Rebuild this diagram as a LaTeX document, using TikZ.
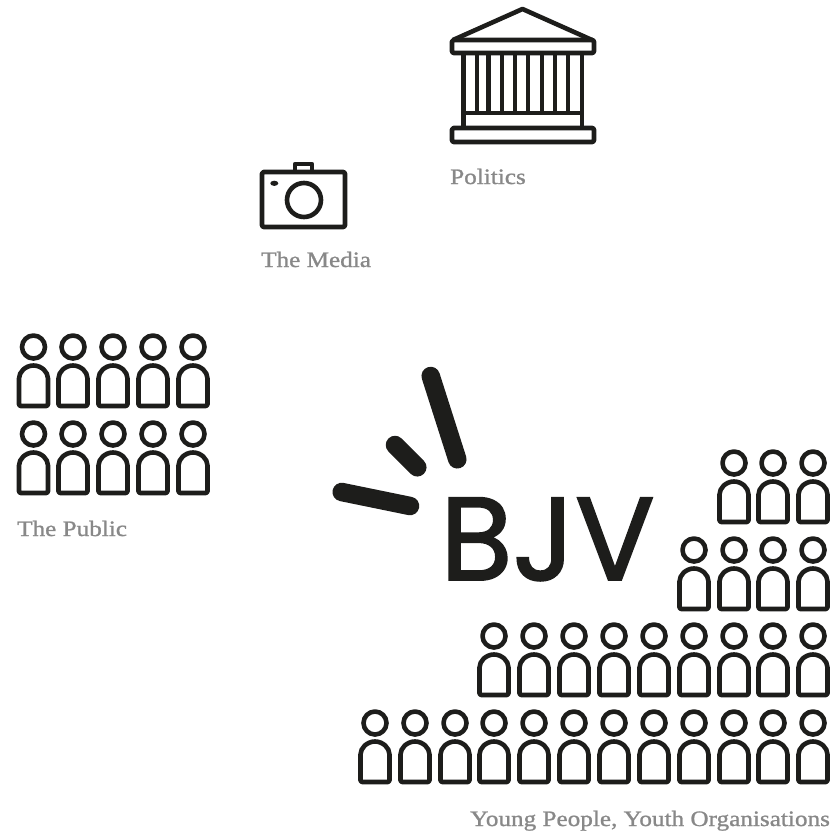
\documentclass[tikz,border=0pt]{standalone}
\usepackage{fontspec}
\setmainfont[FakeStretch=1.145,FakeBold=1.1]{Liberation Serif}
\newfontfamily\logofont[FakeBold=1.6]{Poppins}
\definecolor{ink}{HTML}{1D1D1B}
\definecolor{lab}{HTML}{888888}
\tikzset{
  icon/.style={draw=ink,line width=4.6pt,line join=round},
  thin col/.style={draw=ink,line width=4.2pt},
  beam/.style={draw=ink,line width=18.5pt,line cap=round},
  caption/.style={text=lab,anchor=base west,inner sep=0pt,font=\fontsize{22}{24}\selectfont},
  person/.pic={
    \draw[icon] (0,0) circle (11.5);
    \draw[icon,rounded corners=1.5pt] (-14.5,59) -- (-14.5,33) arc[start angle=180,end angle=360,radius=14.5] -- (14.5,59) -- cycle;
  }
}
\begin{document}
\begin{tikzpicture}[x=1pt,y=-1pt]
\useasboundingbox (0,0) rectangle (832,833);
% Politics
\draw[icon] (453,40) -- (522.5,9) -- (592,40);
\draw[icon,rounded corners=1.5pt] (452,40) rectangle (594,53);
\foreach \x in {476.7,488.5,501.7,515,528.3,541.7,555,568.3}
  \draw[thin col] (\x,53) -- (\x,113);
\foreach \x in {463.5,582.3}
  \draw[thin col] (\x,53) -- (\x,128);
\draw[icon] (463.5,113) -- (582.3,113);
\draw[icon,rounded corners=1.5pt] (452,128) rectangle (594,142);
\node[caption] (politics) at (450,184) {Politics};
% Media
\draw[icon,rounded corners=1.5pt] (262,172) rectangle (345,227);
\draw[icon] (295,172) -- (295,164) -- (312,164) -- (312,172);
\draw[icon] (304,200) circle (17);
\fill[ink] (274.3,183.3) ellipse (4 and 2.6);
\node[caption] (media) at (261,267) {The Media};
% Public
\foreach \y in {347,434}
  \foreach \x in {33.5,73,113,153,193}
    \pic at (\x,\y) {person};
\node[caption] (public) at (17,536) {The Public};
% Logo
\draw[beam] (430.7,376) -- (457.3,459.3);
\draw[beam] (395,445) -- (417.3,467.3);
\draw[beam] (341.7,492) -- (410,506);
\node[anchor=base west,inner sep=0pt,text=ink,font=\logofont\fontsize{118}{118}\selectfont] (bjv) at (440,580) {BJV};
% Young people
\foreach \x in {375,415,455,494,534,574,614,654,694,734,773,813}
  \pic at (\x,723) {person};
\foreach \x in {494,534,574,614,654,694,734,773,813}
  \pic at (\x,636) {person};
\foreach \x in {694,734,773,813}
  \pic at (\x,550) {person};
\foreach \x in {734,773,813}
  \pic at (\x,463) {person};
\node[caption] (young) at (470,826) {Young People, Youth Organisations};
\end{tikzpicture}
\end{document}
